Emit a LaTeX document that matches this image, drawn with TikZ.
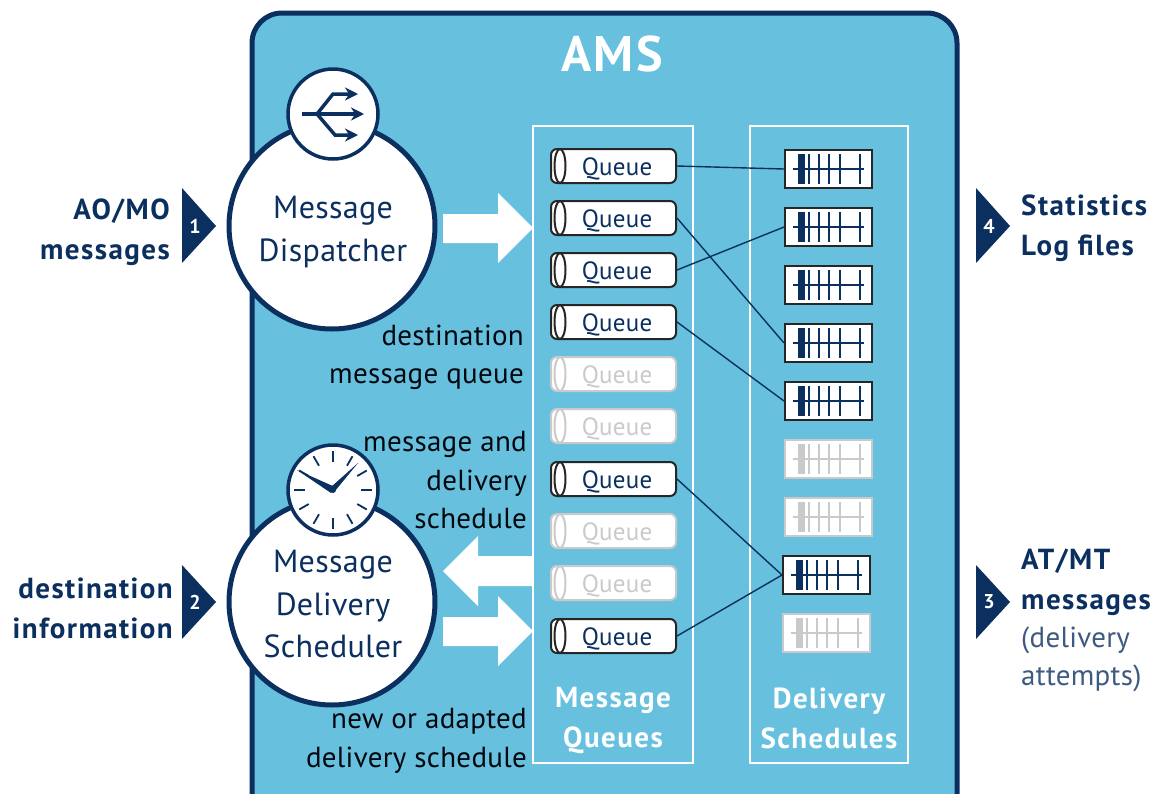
\documentclass[tikz,border=0pt]{standalone}
\usepackage{fontspec}
\usetikzlibrary{arrows.meta}
\setmainfont[LetterSpace=1,BoldFeatures={LetterSpace=5}]{PT Sans}
\definecolor{ink}{HTML}{0B2F5F}
\definecolor{panelblue}{HTML}{67C1DE}
\definecolor{offgrey}{HTML}{C8CACC}
\definecolor{softink}{HTML}{3D5B80}
\tikzset{
  bigcircle/.style={circle,draw=ink,fill=white,line width=5pt,minimum size=206pt,inner sep=0pt},
  circletext/.style={inner sep=0pt,align=center,text=ink,font=\fontsize{32}{42.5}\selectfont},
  iconcircle/.style={circle,draw=ink,fill=white,line width=3.5pt,minimum size=90pt,inner sep=0pt},
  queueon/.style={draw=black!85,fill=white,line width=2pt,rounded corners=6pt,minimum width=125pt,minimum height=34pt,inner sep=0pt,text height=18pt,text depth=0pt,text=ink,font=\fontsize{25}{30}\selectfont},
  queueoff/.style={queueon,draw=offgrey,text=offgrey},
  schedon/.style={draw=black!85,fill=white,line width=2pt,minimum width=87pt,minimum height=38pt,inner sep=0pt},
  schedoff/.style={schedon,draw=offgrey},
  hint/.style={anchor=east,align=right,inner sep=0pt,text=black!85!ink,font=\fontsize{29}{38.5}\selectfont},
  sidelabel/.style={inner sep=0pt,text=ink,font=\bfseries\fontsize{29}{39.5}\selectfont},
  whitelabel/.style={inner sep=0pt,align=center,text=white,font=\bfseries\fontsize{29}{40}\selectfont},
  number/.style={inner sep=0pt,text=white,font=\bfseries\fontsize{20}{22}\selectfont},
  wire/.style={draw=ink,line width=1.4pt},
  blockarrow/.style={fill=white,draw=none},
  sidetip/.style={fill=ink,draw=none},
  router/.style={ink,line width=3.5pt,-{Stealth[length=13pt,width=13pt]}}
}
\newcommand{\schedmarks}[2]{%
  \fill[#2] ([xshift=-30.5pt,yshift=15pt]#1.center) rectangle ([xshift=-23.5pt,yshift=-15pt]#1.center);
  \draw[#2,line width=1.4pt] ([xshift=-35.5pt]#1.center)--([xshift=35.5pt]#1.center);
  \foreach \tick in {-19.5,-9.5,0.5,11.5,31.5}
    \draw[#2,line width=2pt] ([xshift=\tick pt,yshift=15pt]#1.center)--([xshift=\tick pt,yshift=-15pt]#1.center);
}
\begin{document}
\begin{tikzpicture}[x=1pt,y=-1pt]
  \clip (0,0) rectangle (1162,793);
  \fill[white] (0,0) rectangle (1162,793);
  % panel
  \draw[ink,fill=panelblue,line width=5pt,rounded corners=30pt] (252,13) rectangle (957,850);
  \node[inner sep=0pt,text=white,font=\bfseries\fontsize{50}{56}\selectfont] (ams) at (612,54) {AMS};
  \draw[white,line width=1.5pt] (533,126) rectangle (693,763);
  \draw[white,line width=1.5pt] (750,126) rectangle (908,763);
  \node[whitelabel] (qtitle) at (613,720) {Message\\Queues};
  \node[whitelabel] (stitle) at (829,718) {Delivery\\Schedules};
  % block arrows
  \fill[blockarrow] (443,214)--(498,214)--(498,193)--(533,228)--(498,263)--(498,243)--(443,243)--cycle;
  \fill[blockarrow] (533,556)--(478,556)--(478,536)--(443,571)--(478,606)--(478,586)--(533,586)--cycle;
  \fill[blockarrow] (443,617)--(498,617)--(498,596)--(533,631)--(498,666)--(498,646)--(443,646)--cycle;
  % queues
  \foreach \i/\ypos/\kind in {1/166/queueon,2/218/queueon,3/270/queueon,4/322/queueon,5/374/queueoff,6/426/queueoff,7/479/queueon,8/531/queueoff,9/583/queueoff,10/636/queueon}{
    \node[\kind] (q\i) at (613.5,\ypos) {\hspace{7pt}Queue};
    \draw[\kind,rounded corners=0pt,fill=white] ([xshift=10pt]q\i.west) ellipse (5.5pt and 17pt);
  }
  % schedules
  \foreach \i/\xpos/\ypos/\kind/\mark in {1/828.5/169/schedon/ink,2/828.5/227/schedon/ink,3/828.5/285/schedon/ink,4/828.5/343/schedon/ink,5/828.5/401/schedon/ink,6/828.5/459/schedoff/offgrey,7/828.5/517/schedoff/offgrey,8/826.5/575/schedon/ink,9/826.5/633/schedoff/offgrey}{
    \node[\kind] (s\i) at (\xpos,\ypos) {};
    \schedmarks{s\i}{\mark}
  }
  % wires
  \draw[wire] (q1.east)--(s1.west);
  \draw[wire] (q2.east)--(s4.west);
  \draw[wire] (q3.east)--(s2.west);
  \draw[wire] (q4.east)--(s5.west);
  \draw[wire] (q7.east)--(s8.west);
  \draw[wire] (q10.east)--(s8.west);
  % dispatcher
  \node[bigcircle] (disp) at (332,226) {};
  \node[circletext] (disptext) at (333,232) {Message\\Dispatcher};
  \node[iconcircle] (dispicon) at (333,114) {};
  \draw[router] (302,114)--(364,114);
  \draw[router] (317,114)--(333,94)--(358,94);
  \draw[router] (317,114)--(335,135)--(358,135);
  % scheduler
  \node[bigcircle] (sched) at (332,602) {};
  \node[circletext] (schedtext) at (333,604) {Message\\Delivery\\Scheduler};
  \node[iconcircle] (clock) at (333,490) {};
  \foreach \a in {0,30,...,330}
    \draw[ink,line width=1.8pt] ([shift={(\a:28pt)}]clock.center)--([shift={(\a:39pt)}]clock.center);
  \fill[ink] (358,463)--(335,491)--(331,487)--cycle;
  \fill[ink] (297,470)--(335,487)--(331,493)--cycle;
  \fill[ink] (clock.center) circle (3pt);
  % hints
  \node[hint] (h1) at (524,357.5) {destination\\message queue};
  \node[hint] (h2) at (527,480.5) {message and\\delivery\\schedule};
  \node[hint] (h3) at (527,741) {new or adapted\\delivery schedule};
  % side tips
  \fill[sidetip] (182,188)--(216,226)--(182,263)--cycle;
  \fill[sidetip] (182,565)--(216,602)--(182,639)--cycle;
  \fill[sidetip] (976,188)--(1010,226)--(976,263)--cycle;
  \fill[sidetip] (976,565)--(1010,602)--(976,639)--cycle;
  \node[number] (n1) at (195,226) {1};
  \node[number] (n2) at (195,602) {2};
  \node[number] (n4) at (989,226) {4};
  \node[number] (n3) at (989,602) {3};
  % side labels
  \node[sidelabel,anchor=east,align=right] (aomo) at (170,232) {AO/MO\\messages};
  \node[sidelabel,anchor=east,align=right] (dest) at (173,608.5) {destination\\information};
  \node[sidelabel,anchor=west,align=left] (stats) at (1021,228) {Statistics\\Log files};
  \node[sidelabel,anchor=west,align=left] (atmt) at (1021,582) {AT/MT\\messages};
  \node[inner sep=0pt,anchor=west,align=left,text=softink,font=\fontsize{29}{38}\selectfont] (attempts) at (1021,659) {(delivery\\attempts)};
\end{tikzpicture}
\end{document}
